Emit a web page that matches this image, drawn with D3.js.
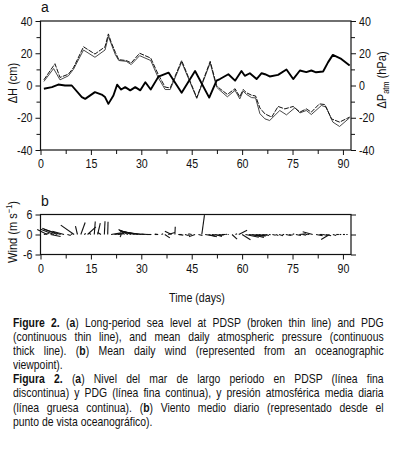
<!DOCTYPE html>
<html><head><meta charset="utf-8">
<script src="https://cdn.jsdelivr.net/npm/d3@7"></script>
<style>
body{margin:0;background:#fff;}
svg{position:absolute;left:0;top:0;}
text{font-family:"Liberation Sans",Arial,sans-serif;fill:#111;}
#cap{position:absolute;left:13px;top:316px;width:452px;transform:scaleX(0.82);transform-origin:0 0;font-family:"Liberation Sans",Arial,sans-serif;font-size:12.7px;line-height:14.1px;color:#111;}
#cap div{white-space:nowrap;text-align:justify;text-align-last:justify;}
#cap div.last{text-align-last:left;}
</style></head><body>
<svg id="chart" width="395" height="454"></svg>
<div id="cap"></div>
<script>
// ---- data ----
const pdspDays = [1,4.3,5.8,8.3,9.8,12.8,16.2,19.2,20.2,21,22.3,23.3,25.5,27,29.5,32.8,35,37.1,38.6,42,46.5,50.5,52.4,53.4,55.6,57.9,59.3,60.3,61.3,62.8,64,65.3,66.8,68.8,70.7,72.7,75.2,77.2,79.1,80.6,83,84.6,86.6,89,92];
const pdsp = [3.5,13.5,5,7,11,24,19.5,24,32,27,20.5,16,15.5,14,20,17,7,-1,-1.5,15.5,-7.5,15,0,-2,-5.5,-2,-7,-2.5,-4.5,-6,-6.5,-14,-17.6,-19.6,-13,-14.5,-13,-16.5,-14.5,-16.5,-11.4,-11.8,-20.7,-22.7,-19.6];
const pdgDays = [1,3.9,5.8,8.3,9.8,12.8,16.2,19.2,20.2,21,22.3,23.3,25.5,27,29.5,32.8,35,37.1,38.6,42,46.5,50.5,52.4,53.4,55.6,57.9,59.3,60.3,61.3,62.8,64,65.3,66.8,68.2,71.2,73.2,75.7,77.2,79.1,80.6,83.6,85,87,89,92];
const pdg = [2.5,10.5,3.5,6,10,22,17.5,22,30.5,26,19,15.5,15,13,18.5,15.5,5,-2.5,-2.5,14.5,-8,14,-1,-3,-7,-3,-8.3,-3.5,-5.5,-7.5,-7.7,-17.5,-20.7,-21.7,-15.5,-18.2,-13.8,-17,-15.5,-18,-12.4,-13.4,-22.7,-25.4,-20];
const presDays = [1,3.4,5.3,7.3,9.3,12.3,13.3,16.2,18.2,19.2,20.2,21.7,22.8,24,25.2,26.7,28.2,29.7,31.2,32.8,35.1,38.1,42,46,50.2,52.4,53.4,55.9,57.9,59.8,60.8,62.3,64.3,65.8,66.8,68.2,70.7,73.2,75.2,77.2,79.1,80.6,82,84.1,85.6,87,89.5,92];
const pressure = [-2,-1,0.6,0,0,-7.2,-8.3,-4.1,-5.6,-7.2,-11.4,-6.2,0.5,-2.5,-1,-3,-1,-3,2,-2.5,5.5,8,-4.5,9,-7.5,3,4,7,3,9,6,7.6,4,7.6,7,5.6,6.6,9.9,4,9.3,8.3,9.3,8.2,8.7,14.5,19,16.5,12.4];
const windDays = d3.range(1,92);
const windU = [1.5,-3,3,-4,-4.5,-5,-3.5,1,0.5,-4,-0.6,1.3,0.5,2.5,-0.5,0.3,0.8,-1,0.2,0.1,3,2.5,1.5,-0.3,-1.5,-2.8,-3.5,-4.4,-5,-5.4,-5,-2,-1.5,1,-1,0.5,1.5,2,-2,0.1,1.5,-0.8,1,0.5,-1,-1.5,1.2,0.8,3,2.5,3,2,1.5,1,0.5,-0.3,1.5,0.5,2.5,2.5,4,4.5,3.5,3,2,1.5,1,0.5,1,0.8,1.2,0.5,1.5,1,0.5,1.5,2,1,0.5,-0.5,-3,2,1,1.5,1.5,-2.5,1,0.8,0.5,0.6,0.4];
const windV = [0.3,1.5,-0.6,1.6,1.9,1.6,1.0,-0.3,0.2,2.8,2.5,3.6,0.3,2.3,0.4,3.9,3.4,0.6,4.0,3.8,0.5,0.3,0.2,-0.8,1.3,1.5,1.3,1.2,1.0,0.8,0.4,0.1,0,0,0.1,0.2,-1,0.6,1,2.3,-0.2,0,-0.3,-0.7,0.2,-0.5,-0.3,5.8,-0.5,-0.7,-0.3,-0.6,-0.2,0,0.1,0,-1.4,0.2,1.3,-1.6,-0.8,-0.5,-0.9,-0.3,-0.5,-0.2,-0.3,-0.1,-0.2,-0.3,-0.4,0,-0.3,-0.2,0.2,-0.3,0.2,-0.2,0,0.1,0.8,-0.4,0,-0.3,-0.4,-1.5,-0.3,0,0,0,0];
const xTicks = [0,15,30,45,60,75,90];
const aTicks = [-40,-20,0,20,40];
const bTicks = [-6,0,6];

const SX = 0.82; // horizontal squeeze to mimic a narrow typeface
const svg = d3.select("#chart");
const x = d3.scaleLinear().domain([0,92.4]).range([40.5,351]);
const ya = d3.scaleLinear().domain([-40,40]).range([150,21]);
const yb = d3.scaleLinear().domain([-6,6]).range([254.5,214.5]);
const fmt = d => d<0 ? "-"+Math.abs(d) : String(d);

function narrowTicks(g){
  g.selectAll(".tick text").each(function(){
    const t = d3.select(this);
    const xv = +t.attr("x") || 0;
    t.attr("x", xv/SX).attr("transform",`scale(${SX},1)`)
     .attr("font-size","13px").attr("fill","#111")
     .attr("font-family",'"Liberation Sans",Arial,sans-serif');
  });
}

function axes(y, ticks, minor, showRight){
  const g = svg.append("g");
  const x0 = x.range()[0], x1 = x.range()[1];
  g.append("g").attr("transform",`translate(${x0},0)`)
    .call(d3.axisLeft(y).tickValues(ticks).tickSize(5).tickPadding(3).tickFormat(fmt));
  if(minor) g.append("g").attr("transform",`translate(${x0},0)`).call(d3.axisLeft(y).tickValues(minor).tickSize(4).tickFormat(""));
  g.append("g").attr("transform",`translate(${x1},0)`)
    .call(d3.axisRight(y).tickValues(ticks).tickSize(5).tickPadding(3).tickFormat(showRight?fmt:""));
  if(minor) g.append("g").attr("transform",`translate(${x1},0)`).call(d3.axisRight(y).tickValues(minor).tickSize(4).tickFormat(""));
  g.append("g").attr("transform",`translate(0,${y.range()[0]})`)
    .call(d3.axisBottom(x).tickValues(xTicks).tickSize(5).tickPadding(4));
  g.append("g").attr("transform",`translate(0,${y.range()[0]})`)
    .call(d3.axisBottom(x).tickValues([7.5,22.5,37.5,52.5,67.5,82.5]).tickSize(4).tickFormat(""));
  g.selectAll(".domain").remove();
  g.selectAll(".tick line").attr("stroke","#111").attr("stroke-width",1);
  narrowTicks(g);
  g.append("rect").attr("x",x0).attr("y",y.range()[1])
    .attr("width",x1-x0).attr("height",y.range()[0]-y.range()[1])
    .attr("fill","none").attr("stroke","#111").attr("stroke-width",1.2);
}

// panel a lines
const line = (days, vals) => d3.line().x((d,i)=>x(days[i])).y(d=>ya(d))(vals);
svg.append("path").attr("d",line(pdgDays,pdg)).attr("fill","none").attr("stroke","#333").attr("stroke-width",0.9);
svg.append("path").attr("d",line(pdspDays,pdsp)).attr("fill","none").attr("stroke","#111").attr("stroke-width",1).attr("stroke-dasharray","5,1.2");
svg.append("path").attr("d",line(presDays,pressure)).attr("fill","none").attr("stroke","#000").attr("stroke-width",1.9).attr("stroke-linejoin","round");
axes(ya,aTicks,[-30,-10,10,30],true);

// panel b sticks
svg.append("g").selectAll("line").data(windDays).join("line")
  .attr("x1",d=>x(d)).attr("y1",yb(0))
  .attr("x2",(d,i)=>x(d)+(yb(0)-yb(windU[i]))).attr("y2",(d,i)=>yb(windV[i]))
  .attr("stroke","#111").attr("stroke-width",1.1);
axes(yb,bTicks,null,false);

// labels
svg.append("text").attr("x",41).attr("y",12).attr("font-size","14px").text("a");
svg.append("text").attr("x",41).attr("y",206).attr("font-size","14px").text("b");
svg.append("text").attr("transform",`translate(17,83) rotate(-90) scale(${SX},1)`).attr("text-anchor","middle").attr("font-size","13.5px").text("ΔH (cm)");
const pl = svg.append("text").attr("transform",`translate(386,80) rotate(-90) scale(${SX},1)`).attr("text-anchor","middle").attr("font-size","13.5px");
pl.append("tspan").text("ΔP");
pl.append("tspan").attr("font-size","9px").attr("dy",3).text("atm");
pl.append("tspan").attr("dy",-3).text(" (hPa)");
const wl = svg.append("text").attr("transform",`translate(17,232) rotate(-90) scale(${SX},1)`).attr("text-anchor","middle").attr("font-size","13.5px");
wl.append("tspan").text("Wind (m s");
wl.append("tspan").attr("font-size","9px").attr("dy",-5).text("−1");
wl.append("tspan").attr("dy",5).text(")");
svg.append("text").attr("transform",`translate(197,302) scale(${SX},1)`).attr("text-anchor","middle").attr("font-size","13px").text("Time (days)");

// caption
const capLines = [
 ["<b>Figure 2.</b> (<b>a</b>) Long-period sea level at PDSP (broken thin line) and PDG",false],
 ["(continuous thin line), and mean daily atmospheric pressure (continuous",false],
 ["thick line). (<b>b</b>) Mean daily wind (represented from an oceanographic",false],
 ["viewpoint).",true],
 ["<b>Figura 2.</b> (<b>a</b>) Nivel del mar de largo periodo en PDSP (línea fina",false],
 ["discontinua) y PDG (línea fina continua), y presión atmosférica media diaria",false],
 ["(línea gruesa continua). (<b>b</b>) Viento medio diario (representado desde el",false],
 ["punto de vista oceanográfico).",true]
];
d3.select("#cap").selectAll("div").data(capLines).join("div")
  .attr("class",d=>d[1]?"last":null).html(d=>d[0]);
</script>
</body></html>
